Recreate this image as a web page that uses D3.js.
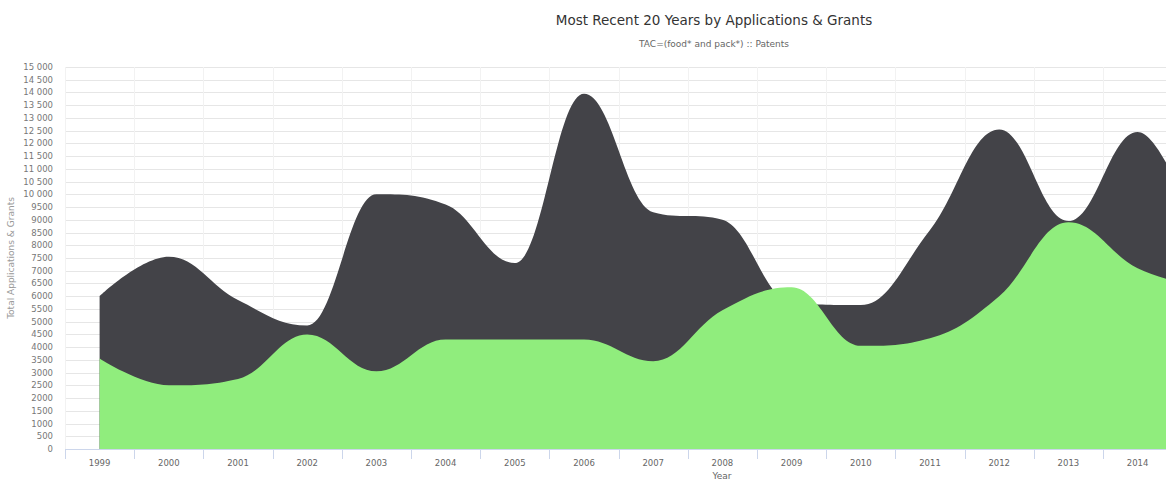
<!DOCTYPE html>
<html>
<head>
<meta charset="utf-8">
<script src="https://cdn.jsdelivr.net/npm/d3@7"></script>
<style>
  body { margin: 0; background: #fff; overflow: hidden; }
  text { font-family: "DejaVu Sans", "Lucida Grande", sans-serif; }
</style>
</head>
<body>
<div id="chart"></div>
<script>
// years on the x axis (the plot runs past the right edge of the window)
var years = ["1999","2000","2001","2002","2003","2004","2005","2006","2007","2008",
             "2009","2010","2011","2012","2013","2014","2015","2016","2017"]

// values, 1999..2015
var applications = [6000, 7550, 5850, 4850, 10000, 9600, 7300, 13950, 9300, 9000,
                    5750, 5650, 8600, 12550, 8950, 12450, 7300]
var grants = [3550, 2500, 2750, 4500, 3050, 4300, 4300, 4300, 3450, 5450,
              6350, 4050, 4350, 6000, 8900, 7100, 6300]

var yTicks = d3.range(0, 15001, 500)

var width = 1166, height = 482
var margin = {left: 65, top: 67, bottom: 449}
var step = 69.2

var svg = d3.select("#chart").append("svg")
    .attr("width", width)
    .attr("height", height)

var x = d3.scaleBand()
    .domain(years)
    .range([margin.left, margin.left + years.length * step])

var y = d3.scaleLinear()
    .domain([0, 15000])
    .range([margin.bottom, margin.top])

// title
svg.append("text")
    .attr("x", 714).attr("y", 25)
    .attr("text-anchor", "middle")
    .attr("font-size", "13.5px")
    .attr("fill", "#333")
    .text("Most Recent 20 Years by Applications & Grants")

svg.append("text")
    .attr("x", 714).attr("y", 47)
    .attr("text-anchor", "middle")
    .attr("font-size", "9px")
    .attr("fill", "#666")
    .text("TAC=(food* and pack*) :: Patents")

// horizontal grid
svg.append("g")
    .selectAll("line")
    .data(yTicks)
    .enter()
    .append("line")
    .attr("x1", margin.left).attr("x2", width)
    .attr("y1", d => Math.round(y(d)) + 0.5)
    .attr("y2", d => Math.round(y(d)) + 0.5)
    .attr("stroke", "#e6e6e6")

// vertical grid at band edges
svg.append("g")
    .selectAll("line")
    .data(years)
    .enter()
    .append("line")
    .attr("x1", d => Math.round(x(d)) + 0.5)
    .attr("x2", d => Math.round(x(d)) + 0.5)
    .attr("y1", margin.top).attr("y2", margin.bottom)
    .attr("stroke", "#f2f2f2")

// highcharts style spline path
function splinePath(vals) {
    var pts = vals.map((v, i) => [x(years[i]) + x.bandwidth() / 2, y(v)])
    var sm = 1.5, den = sm + 1
    var right = []
    var p = "M" + pts[0][0] + "," + pts[0][1]
    for (var i = 1; i < pts.length; i++) {
        var px = pts[i][0], py = pts[i][1]
        var last = pts[i - 1], next = pts[i + 1]
        var lcx = px, lcy = py
        if (next) {
            lcx = (sm * px + last[0]) / den
            lcy = (sm * py + last[1]) / den
            var rcx = (sm * px + next[0]) / den
            var rcy = (sm * py + next[1]) / den
            var corr = 0
            if (rcx !== lcx) corr = ((rcy - lcy) * (rcx - px)) / (rcx - lcx) + py - rcy
            lcy += corr; rcy += corr
            if (lcy > last[1] && lcy > py) { lcy = Math.max(last[1], py); rcy = 2 * py - lcy }
            else if (lcy < last[1] && lcy < py) { lcy = Math.min(last[1], py); rcy = 2 * py - lcy }
            if (rcy > next[1] && rcy > py) { rcy = Math.max(next[1], py); lcy = 2 * py - rcy }
            else if (rcy < next[1] && rcy < py) { rcy = Math.min(next[1], py); lcy = 2 * py - rcy }
            right[i] = [rcx, rcy]
        }
        var rc = right[i - 1] || last
        p += "C" + rc[0] + "," + rc[1] + " " + lcx + "," + lcy + " " + px + "," + py
    }
    var lastPt = pts[pts.length - 1]
    p += "L" + lastPt[0] + "," + y(0) + "L" + pts[0][0] + "," + y(0) + "Z"
    return p
}

svg.append("path")
    .attr("d", splinePath(applications))
    .attr("fill", "#434348")

svg.append("path")
    .attr("d", splinePath(grants))
    .attr("fill", "#90ed7d")

// x axis
svg.append("line")
    .attr("x1", margin.left).attr("x2", width)
    .attr("y1", margin.bottom + 0.5).attr("y2", margin.bottom + 0.5)
    .attr("stroke", "#ccd6eb")

svg.append("g")
    .selectAll("line")
    .data(years)
    .enter()
    .append("line")
    .attr("x1", d => Math.round(x(d)) + 0.5)
    .attr("x2", d => Math.round(x(d)) + 0.5)
    .attr("y1", margin.bottom).attr("y2", margin.bottom + 10)
    .attr("stroke", "#ccd6eb")

// only the labels that fall inside the window
var shownYears = years.filter(d => x(d) + x.bandwidth() / 2 < width)
svg.append("g")
    .selectAll("text")
    .data(shownYears)
    .enter()
    .append("text")
    .attr("x", d => x(d) + x.bandwidth() / 2)
    .attr("y", 466)
    .attr("text-anchor", "middle")
    .attr("font-size", "8.5px")
    .attr("fill", "#666")
    .text(d => d)

svg.append("text")
    .attr("x", 722).attr("y", 479)
    .attr("text-anchor", "middle")
    .attr("font-size", "9px")
    .attr("fill", "#666")
    .text("Year")

// y axis labels
var fmt = d => d >= 10000 ? d3.format(",")(d).replace(",", " ") : String(d)
svg.append("g")
    .selectAll("text")
    .data(yTicks)
    .enter()
    .append("text")
    .attr("x", 53)
    .attr("y", d => y(d) + 3)
    .attr("text-anchor", "end")
    .attr("font-size", "8.5px")
    .attr("fill", "#777")
    .text(fmt)

svg.append("text")
    .attr("transform", "translate(14,258) rotate(-90)")
    .attr("text-anchor", "middle")
    .attr("font-size", "9px")
    .attr("fill", "#999")
    .text("Total Applications & Grants")
</script>
</body>
</html>
